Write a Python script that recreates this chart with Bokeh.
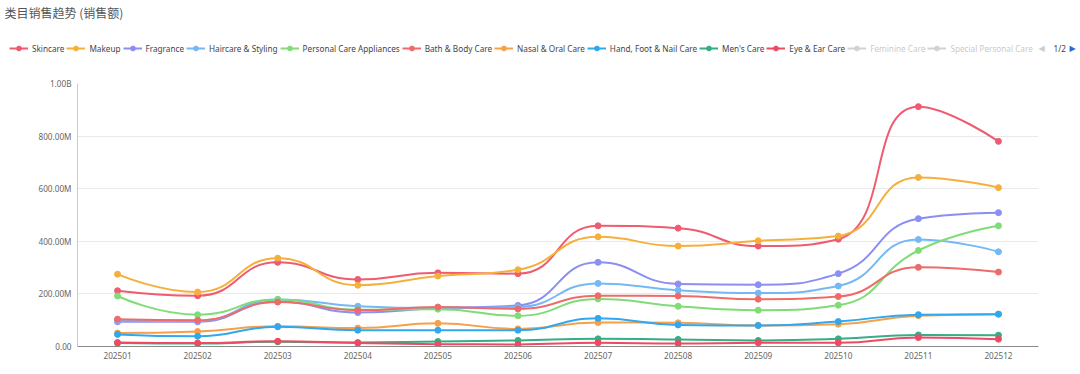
import math
from bokeh.plotting import figure
from bokeh.layouts import column
from bokeh.models import Legend, LegendItem, ColumnDataSource, FixedTicker, Range1d, Label
from bokeh.embed import file_html
from bokeh.resources import INLINE

months = ["202501", "202502", "202503", "202504", "202505", "202506",
          "202507", "202508", "202509", "202510", "202511", "202512"]

# values in millions
skincare = [212, 193, 320, 255, 280, 277, 459, 450, 382, 408, 912, 780]
makeup = [275, 207, 336, 233, 268, 292, 417, 382, 402, 420, 643, 604]
fragrance = [94, 94, 171, 129, 146, 156, 320, 238, 235, 277, 486, 509]
haircare = [98, 98, 179, 153, 146, 150, 240, 214, 203, 230, 407, 360]
pc_appliances = [192, 121, 179, 140, 142, 117, 181, 153, 138, 157, 365, 459]
bath_body = [104, 100, 169, 138, 150, 143, 193, 192, 180, 190, 301, 283]
nasal_oral = [51, 57, 77, 70, 88, 67, 91, 90, 80, 85, 117, 123]
hand_foot_nail = [46, 39, 75, 62, 62, 62, 107, 82, 80, 95, 121, 123]
mens_care = [13, 11, 18, 15, 19, 23, 29, 27, 23, 29, 44, 43]
eye_ear = [15, 13, 20, 13, 9, 8, 14, 11, 14, 14, 34, 28]

series_names = ["Skincare", "Makeup", "Fragrance", "Haircare & Styling",
                "Personal Care Appliances", "Bath & Body Care", "Nasal & Oral Care",
                "Hand, Foot & Nail Care", "Men's Care", "Eye & Ear Care"]
series_values = [skincare, makeup, fragrance, haircare, pc_appliances, bath_body,
                 nasal_oral, hand_foot_nail, mens_care, eye_ear]
colors = ["#ef5b6f", "#f5b03c", "#8c8ff2", "#74b9f5", "#80dc76", "#ef6b6b",
          "#f5a04a", "#30a8ef", "#36ad86", "#ee4a62"]
hidden_names = ["Feminine Care", "Special Personal Care"]   # toggled-off series
page_label = "1/2"
title_text = "类目销售趋势 (销售额)"

y_ticks = [0, 200, 400, 600, 800, 1000]
y_labels = ["0.00", "200.00M", "400.00M", "600.00M", "800.00M", "1.00B"]

W = 1080
HH = 75            # header height
H = 291            # chart height
ML, MR, MT, MB = 77, 42, 8, 20
SX = (W - ML - MR) / 12.0
SY = (H - MT - MB) / 1000.0
NAN = float("nan")


def smooth_segments(vals, smooth=0.5):
    pts = [(i * SX, v * SY) for i, v in enumerate(vals)]
    n = len(pts)
    segs = []
    cpx0, cpy0 = pts[0]
    prevX, prevY = pts[0]
    for idx in range(1, n):
        x, y = pts[idx]
        nextCpx0 = nextCpy0 = None
        if idx + 1 >= n:
            cpx1, cpy1 = x, y
        else:
            nextX, nextY = pts[idx + 1]
            vx = nextX - prevX
            vy = nextY - prevY
            dx0, dy0 = x - prevX, y - prevY
            dx1, dy1 = nextX - x, nextY - y
            lp = math.hypot(dx0, dy0)
            ln = math.hypot(dx1, dy1)
            r = ln / (ln + lp)
            nextCpx0 = x + vx * smooth * r
            nextCpy0 = y + vy * smooth * r
            nextCpx0 = min(nextCpx0, max(nextX, x))
            nextCpy0 = min(nextCpy0, max(nextY, y))
            nextCpx0 = max(nextCpx0, min(nextX, x))
            nextCpy0 = max(nextCpy0, min(nextY, y))
            vx = nextCpx0 - x
            vy = nextCpy0 - y
            cpx1 = x - vx * lp / ln
            cpy1 = y - vy * lp / ln
            cpx1 = min(cpx1, max(prevX, x))
            cpy1 = min(cpy1, max(prevY, y))
            cpx1 = max(cpx1, min(prevX, x))
            cpy1 = max(cpy1, min(prevY, y))
            vx = x - cpx1
            vy = y - cpy1
            nextCpx0 = x + vx * ln / lp
            nextCpy0 = y + vy * ln / lp
        segs.append((prevX / SX, prevY / SY, cpx0 / SX, cpy0 / SY,
                     cpx1 / SX, cpy1 / SY, x / SX, y / SY))
        cpx0, cpy0 = nextCpx0, nextCpy0
        prevX, prevY = x, y
    keys = ["x0", "y0", "cx0", "cy0", "cx1", "cy1", "x1", "y1"]
    return {k: [s[i] for s in segs] for i, k in enumerate(keys)}


# ---------------- header (title + legend) ----------------
hdr = figure(width=W, height=HH, output_backend="svg", toolbar_location=None,
             x_range=Range1d(0, W), y_range=Range1d(0, HH),
             x_axis_type=None, y_axis_type=None,
             min_border_left=0, min_border_right=0, min_border_top=0,
             min_border_bottom=0, outline_line_color=None)
hdr.frame_align = False
hdr.xgrid.grid_line_color = None
hdr.ygrid.grid_line_color = None

hdr.add_layout(Label(x=4, y=HH - 12, text=title_text, text_font="Noto Sans CJK SC",
                     text_font_size="12px", text_color="#555555",
                     text_baseline="middle", text_align="left"))

idx = list(range(len(months)))
nan_y = [NAN] * len(months)   # legend keys only: nothing plotted in the header
items = []
for name, col in zip(series_names, colors):
    lr = hdr.line(x=idx, y=nan_y, line_color=col, line_width=2)
    sr = hdr.scatter(x=idx, y=nan_y, size=7, fill_color=col, line_color=col)
    items.append(LegendItem(label=name, renderers=[lr, sr]))

for name in hidden_names:
    lr = hdr.line(x=idx, y=nan_y, line_color="#666666", line_width=2, visible=False)
    sr = hdr.scatter(x=idx, y=nan_y, size=7, fill_color="#666666",
                     line_color="#666666", visible=False)
    items.append(LegendItem(label=name, renderers=[lr, sr]))

legend = Legend(items=items, orientation="horizontal", location=(9, 21),
                click_policy="hide", label_text_font="Noto Sans",
                label_text_font_size="8.2px", label_text_color="#444444",
                glyph_width=19, glyph_height=12, label_standoff=4, spacing=2,
                padding=0, margin=0, border_line_color=None,
                background_fill_alpha=0, label_height=12,
                inactive_fill_color="white", inactive_fill_alpha=0.7)
hdr.add_layout(legend, "center")

# legend pager
pager_y = HH - 48
hdr.add_layout(Label(x=1038, y=pager_y, text="◀", text_font="DejaVu Sans",
                     text_font_size="8px", text_color="#cccccc",
                     text_baseline="middle", text_align="left"))
hdr.add_layout(Label(x=1053, y=pager_y, text=page_label, text_font="Noto Sans",
                     text_font_size="8.2px", text_color="#444444",
                     text_baseline="middle", text_align="left"))
hdr.add_layout(Label(x=1069, y=pager_y, text="▶", text_font="DejaVu Sans",
                     text_font_size="8px", text_color="#3366cc",
                     text_baseline="middle", text_align="left"))

# ---------------- main chart ----------------
p = figure(width=W, height=H, output_backend="svg", toolbar_location=None,
           x_range=Range1d(-0.5, 11.5), y_range=Range1d(0, 1000),
           min_border_left=ML, min_border_right=MR, min_border_top=MT,
           min_border_bottom=MB, outline_line_color=None)
p.frame_align = False

p.xgrid.grid_line_color = None
p.ygrid.grid_line_color = "#e9e9e9"
p.ygrid.ticker = FixedTicker(ticks=y_ticks)

p.xaxis.ticker = FixedTicker(ticks=idx)
p.xaxis.major_label_overrides = {i: m for i, m in enumerate(months)}
p.xaxis.axis_line_color = "#8a8a8a"
p.xaxis.major_tick_line_color = None
p.xaxis.major_tick_out = 0
p.xaxis.major_tick_in = 0
p.xaxis.minor_tick_line_color = None
p.xaxis.major_label_text_font_size = "8.2px"
p.xaxis.major_label_text_color = "#666666"
p.xaxis.major_label_text_font = "Noto Sans"
p.xaxis.major_label_standoff = 5

p.yaxis.ticker = FixedTicker(ticks=y_ticks)
p.yaxis.major_label_overrides = {t: l for t, l in zip(y_ticks, y_labels)}
p.yaxis.axis_line_color = "#cccccc"
p.yaxis.major_tick_line_color = None
p.yaxis.major_tick_out = 0
p.yaxis.major_tick_in = 0
p.yaxis.minor_tick_line_color = None
p.yaxis.major_label_text_font_size = "8.2px"
p.yaxis.major_label_text_color = "#666666"
p.yaxis.major_label_text_font = "Noto Sans"
p.yaxis.major_label_standoff = 6

for name, vals, col in zip(series_names, series_values, colors):
    seg = smooth_segments(vals)
    p.bezier(x0="x0", y0="y0", x1="x1", y1="y1", cx0="cx0", cy0="cy0",
             cx1="cx1", cy1="cy1", source=ColumnDataSource(seg),
             line_color=col, line_width=2)
    p.scatter(x=idx, y=vals, size=6, fill_color=col, line_color=col)

layout = column(hdr, p, spacing=0)
open("out.html", "w").write(file_html(layout, INLINE))
